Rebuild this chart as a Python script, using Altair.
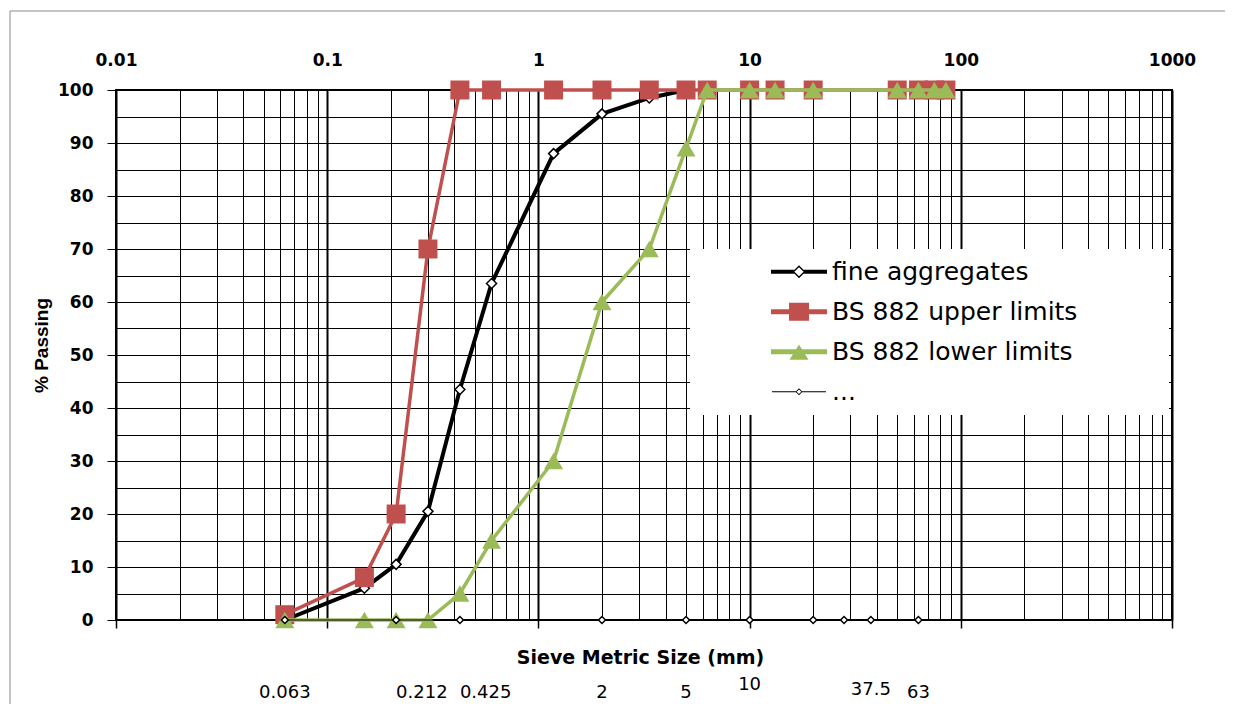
import altair as alt
import pandas as pd

# ---------------- data ----------------
series_names = ["fine aggregates", "BS 882 upper limits", "BS 882 lower limits", "..."]
series_colors = ["black", "#C0504D", "#9BBB59", "black"]

fine_sieve = [0.063, 0.15, 0.212, 0.3, 0.425, 0.6, 1.18, 2, 3.35, 5]
fine_pass = [0, 6, 10.5, 20.5, 43.5, 63.5, 88, 95.5, 98.5, 100]

limit_sieve = [0.063, 0.15, 0.212, 0.3, 0.425, 0.6, 1.18, 2, 3.35, 5, 6.3, 10, 13.2, 20, 50, 63, 75, 85]
upper_pass = [1, 8, 20, 70, 100, 100, 100, 100, 100, 100, 100, 100, 100, 100, 100, 100, 100, 100]
lower_pass = [0, 0, 0, 0, 5, 15, 30, 60, 70, 89, 100, 100, 100, 100, 100, 100, 100, 100]

marker_sieve = [0.063, 0.212, 0.425, 2, 5, 10, 20, 28, 37.5, 63]
marker_pass = [0, 0, 0, 0, 0, 0, 0, 0, 0, 0]

labels_center = ["0.063", "2", "5", "63"]
labels_center_x = [0.063, 2, 5, 63]
labels_left = ["0.212", "0.425"]
labels_left_x = [0.212, 0.425]
labels_mid = ["37.5"]
labels_mid_x = [37.5]
labels_high = ["10"]
labels_high_x = [10]

decades = [0.01, 0.1, 1, 10, 100, 1000]
grid_x = [m * d for d in decades[:-1] for m in range(1, 10)] + [1000]
grid_y = list(range(0, 101, 5))

# legend symbols: line + marker, drawn as filled shapes (units of 20 px)
legend_paths = [
    "M-1.95,-0.1H-0.78V0.1H-1.95Z M-0.32,-0.1H0.85V0.1H-0.32Z "
    "M-0.875,0L-0.55,-0.325L-0.225,0L-0.55,0.325Z M-0.78,0L-0.55,0.23L-0.32,0L-0.55,-0.23Z",
    "M-1.95,-0.125H0.85V0.125H-1.95Z M-1.05,-0.45H-0.05V0.45H-1.05Z",
    "M-1.95,-0.125H0.85V0.125H-1.95Z M-0.55,-0.36L-0.075,0.4L-1.025,0.4Z",
    "M-1.9,-0.03H-0.665V0.03H-1.9Z M-0.435,-0.03H0.8V0.03H-0.435Z "
    "M-0.725,0L-0.55,-0.175L-0.375,0L-0.55,0.175Z M-0.665,0L-0.55,0.115L-0.435,0L-0.55,-0.115Z",
]

FONT = "DejaVu Sans"

fine_df = pd.DataFrame({"size": fine_sieve, "passing": fine_pass})
upper_df = pd.DataFrame({"size": limit_sieve, "passing": upper_pass})
lower_df = pd.DataFrame({"size": limit_sieve, "passing": lower_pass})
marker_df = pd.DataFrame({"size": marker_sieve, "passing": marker_pass})
legend_df = pd.DataFrame({"series": series_names, "size": [1] * 4, "passing": [-50] * 4})

x_scale = alt.Scale(type="log", domain=[0.01, 1000])
y_scale = alt.Scale(domain=[0, 100])

DEC_TEST = "abs(log(datum.value)/LN10 - round(log(datum.value)/LN10)) < 0.001"

top_axis = alt.Axis(
    orient="top", values=decades, labelExpr="'' + datum.value",
    ticks=False, domain=False, grid=False, title=None,
    labelFont=FONT, labelFontWeight="bold", labelFontSize=17, labelColor="black",
    labelPadding=21, labelFlush=False, labelOverlap=False, labelBound=False,
)
bottom_axis = alt.Axis(
    orient="bottom", values=grid_x, labels=False, domain=False,
    grid=True, gridColor="black", gridOpacity=1,
    gridWidth={"condition": {"test": DEC_TEST, "value": 2}, "value": 1},
    ticks=True, tickSize=8, tickColor="black", tickWidth=1.5,
    tickOpacity={"condition": {"test": DEC_TEST, "value": 1}, "value": 0},
    title="Sieve Metric Size (mm)", titleFont=FONT, titleFontSize=19,
    titleFontWeight="bold", titleColor="black", titleX=524, titleY=43,
    titleBaseline="alphabetic", titleAlign="center",
)
y_axis = alt.Axis(
    values=grid_y, labelExpr="datum.value % 10 === 0 ? '' + datum.value : ''",
    grid=True, gridColor="black", gridWidth=1, gridOpacity=1,
    tickSize=9, tickColor="black", tickWidth=1,
    tickOpacity={"condition": {"test": "datum.value % 10 === 0", "value": 1}, "value": 0},
    domain=False, labelFont=FONT, labelFontWeight="bold", labelFontSize=17,
    labelColor="black", labelPadding=14,
    title="% Passing", titleFont="Liberation Sans", titleFontSize=19,
    titleFontWeight="bold", titleColor="black", titleX=-69, titleY=255,
    titleAngle=270, titleBaseline="alphabetic", titleAlign="center",
)


def X(axis=None):
    return alt.X("size:Q", scale=x_scale, axis=axis)


def Y(axis=None):
    return alt.Y("passing:Q", scale=y_scale, axis=axis)


fine_line = alt.Chart(fine_df).mark_line(color="black", strokeWidth=4).encode(
    x=X(top_axis), y=Y(y_axis))
fine_pts = alt.Chart(fine_df).mark_point(
    shape="diamond", filled=True, fill="white", stroke="black", strokeWidth=1.5,
    size=100, opacity=1).encode(x=X(bottom_axis), y=Y())

upper_line = alt.Chart(upper_df).mark_line(color="#C0504D", strokeWidth=3.5).encode(x=X(), y=Y())
upper_pts = alt.Chart(upper_df).mark_point(
    shape="square", filled=True, color="#C0504D", size=361, opacity=1).encode(x=X(), y=Y())

lower_line = alt.Chart(lower_df).mark_line(color="#9BBB59", strokeWidth=3.5).encode(x=X(), y=Y())
lower_pts = alt.Chart(lower_df).mark_point(
    shape="triangle-up", filled=True, color="#9BBB59", size=361, opacity=1).encode(x=X(), y=Y())

marker_line = alt.Chart(marker_df).mark_line(color="black", strokeWidth=1).encode(x=X(), y=Y())
marker_pts = alt.Chart(marker_df).mark_point(
    shape="diamond", filled=True, fill="white", stroke="black", strokeWidth=1.5,
    size=49, opacity=1).encode(x=X(), y=Y())


def label_layer(texts, xs, align, ypix):
    df = pd.DataFrame({"size": xs, "label": texts})
    return alt.Chart(df).mark_text(
        font=FONT, fontSize=18, color="black", align=align, baseline="alphabetic"
    ).encode(x=X(), y=alt.value(ypix), text="label:N")


lab1 = label_layer(labels_center, labels_center_x, "center", 608)
lab2 = label_layer(labels_left, labels_left_x, "left", 608)
lab3 = label_layer(labels_mid, labels_mid_x, "center", 605)
lab4 = label_layer(labels_high, labels_high_x, "center", 600)

leg = alt.Legend(
    orient="none", legendX=574, legendY=159, padding=3,
    title=".", titleOrient="right", titleColor="white", titleFontSize=2,
    titlePadding=88,
    fillColor="white", symbolSize=1600, symbolStrokeWidth=0,
    symbolOffset=97, labelOffset=2, clipHeight=39.5, rowPadding=0,
    labelFont=FONT, labelFontSize=25, labelColor="black", labelLimit=800,
)
legend_layer = alt.Chart(legend_df).mark_point(filled=True, opacity=1, clip=True).encode(
    x=X(), y=Y(),
    color=alt.Color("series:N", scale=alt.Scale(domain=series_names, range=series_colors), legend=leg),
    shape=alt.Shape("series:N", scale=alt.Scale(domain=series_names, range=legend_paths), legend=leg),
)

frame_df = pd.DataFrame({"a": [0]})
frame_top = alt.Chart(frame_df).mark_rule(color="#8a8a8a", strokeWidth=1).encode(
    x=alt.value(-106), x2=alt.value(1400), y=alt.value(-79))
frame_left = alt.Chart(frame_df).mark_rule(color="#8a8a8a", strokeWidth=1).encode(
    x=alt.value(-106), y=alt.value(-79), y2=alt.value(900))

chart = alt.layer(
    fine_line, fine_pts, upper_line, upper_pts, lower_line, lower_pts,
    marker_line, marker_pts, lab1, lab2, lab3, lab4, legend_layer, frame_top, frame_left,
).resolve_axis(x="independent", y="independent").properties(
    width=1056, height=530,
    padding={"left": 108, "top": 82, "right": 53, "bottom": 84},
    autosize=alt.AutoSizeParams(type="none"),
    background="white",
).configure_view(stroke="black", strokeWidth=2)

chart.save("out.html", embed_options={"renderer": "svg", "actions": False})
